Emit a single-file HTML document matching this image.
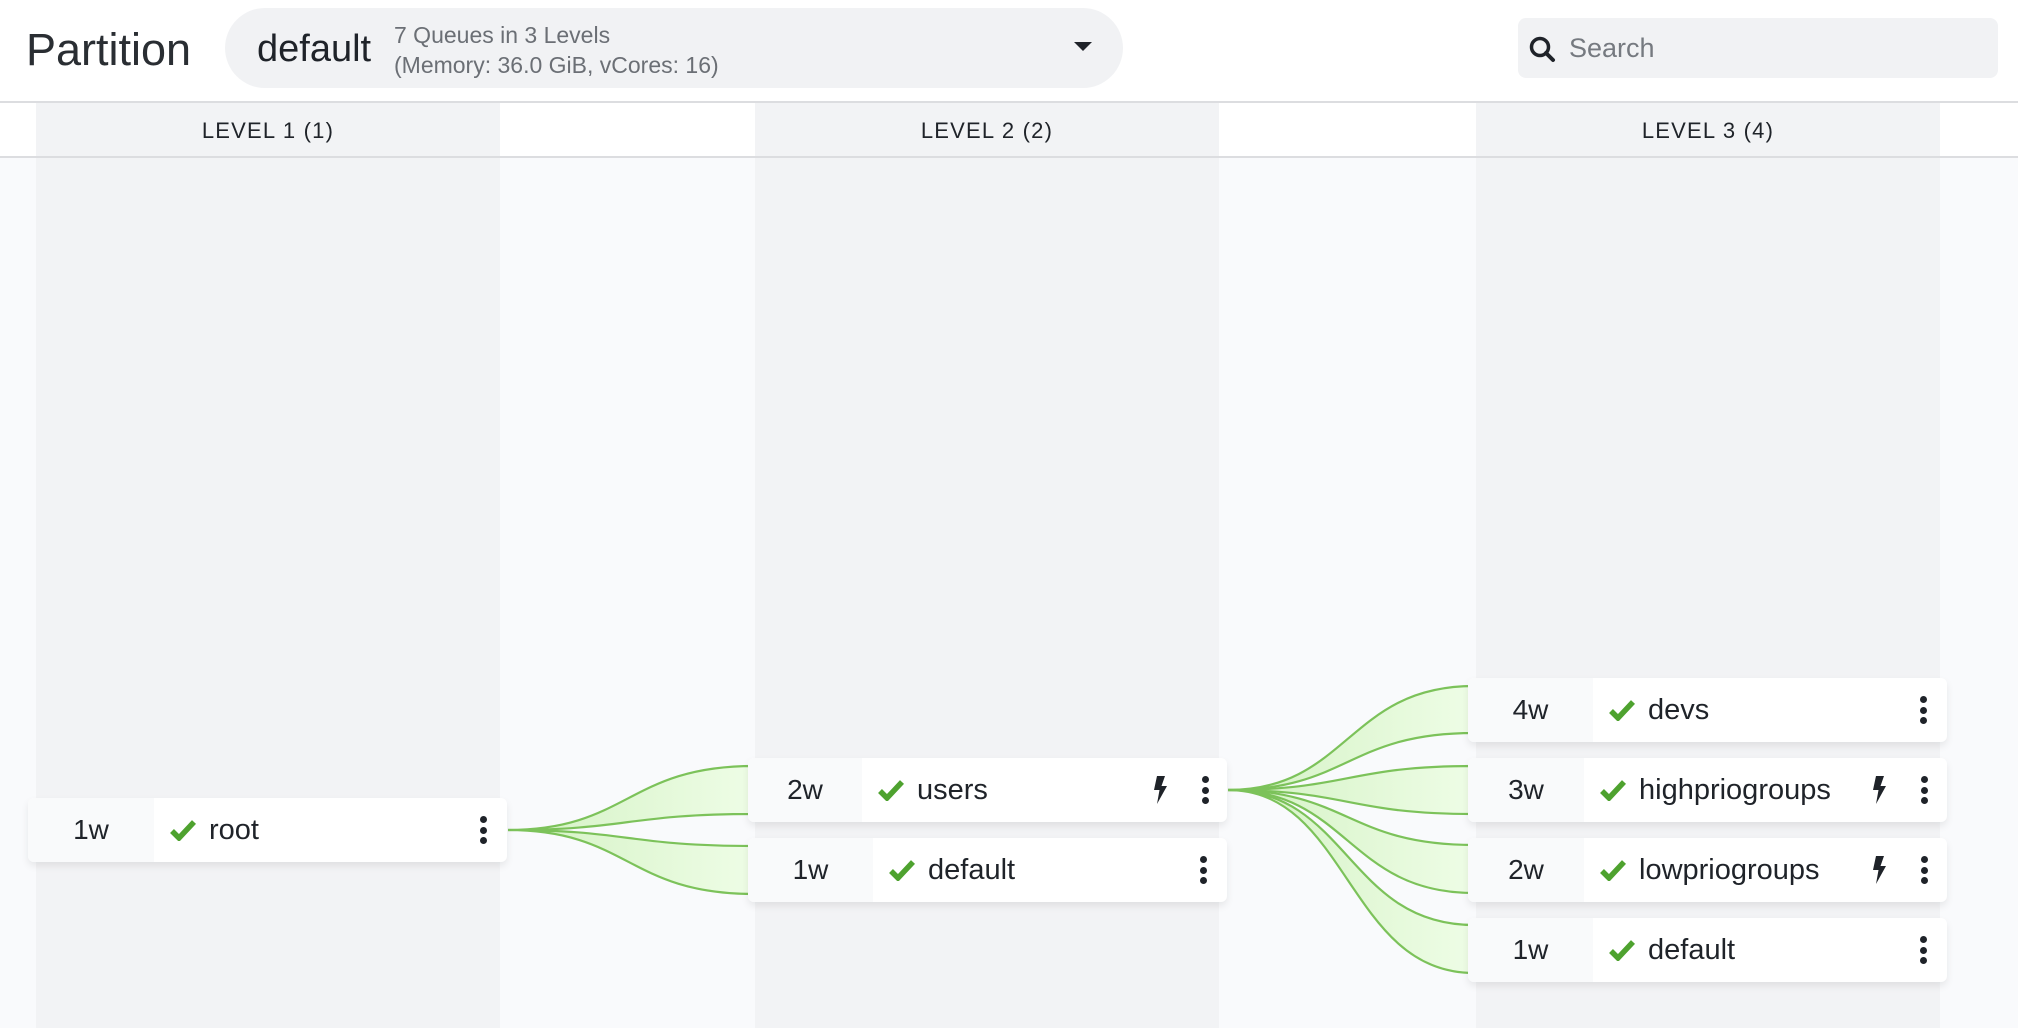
<!DOCTYPE html>
<html><head><meta charset="utf-8"><style>
*{box-sizing:border-box;margin:0;padding:0}
body{width:2018px;height:1028px;overflow:hidden;background:#f9fafc;font-family:"Liberation Sans",sans-serif;color:#1f2329;position:relative}
.abs{position:absolute}
.hdr{left:0;top:0;width:2018px;height:103px;background:#fff;border-bottom:2px solid #dcdde0}
.lvl{top:103px;height:55px;width:2018px;background:#fff;border-bottom:2px solid #dcdde0}
.col{background:#f2f3f5;width:464px}
.lbl{top:103px;height:55px;display:flex;align-items:center;justify-content:center;font-size:22px;letter-spacing:1.2px;color:#1f2329}
.node{height:64px;background:#fff;border-radius:6px;box-shadow:0 4px 8px rgba(0,0,0,0.08);display:flex;align-items:center;font-size:29px;overflow:hidden}
.w{height:100%;background:#f9fafb;display:flex;align-items:center;justify-content:center;font-size:28px}
.chk{width:26px;height:22px;margin-left:16px;margin-right:13px}
.keb{position:absolute;width:8px;height:28px;top:18px}
.keb i{display:block;width:7px;height:7px;border-radius:50%;background:#1f2329;margin-bottom:3.5px}
.bolt{position:absolute;top:18px;width:16px;height:28px}
</style></head><body>
<div class="abs hdr"></div>
<div class="abs" style="left:26px;top:22px;font-size:45px;color:#2a2e33;line-height:56px">Partition</div>
<div class="abs" style="left:225px;top:8px;width:898px;height:80px;border-radius:40px;background:#f1f2f4"></div>
<div class="abs" style="left:257px;top:26px;font-size:38px;line-height:46px">default</div>
<div class="abs" style="left:394px;top:20px;font-size:23px;line-height:30px;color:#6b6f75">7 Queues in 3 Levels<br>(Memory: 36.0 GiB, vCores: 16)</div>
<div class="abs" style="left:1074px;top:42px;width:0;height:0;border-left:9px solid transparent;border-right:9px solid transparent;border-top:9px solid #1f2329"></div>
<div class="abs" style="left:1518px;top:18px;width:480px;height:60px;border-radius:8px;background:#f1f2f4"></div>
<svg class="abs" style="left:1528px;top:35px" width="30" height="30" viewBox="0 0 30 30"><circle cx="12" cy="12" r="8.5" fill="none" stroke="#1f2329" stroke-width="3.5"/><line x1="18" y1="18" x2="25" y2="25" stroke="#1f2329" stroke-width="4" stroke-linecap="round"/></svg>
<div class="abs" style="left:1569px;top:30px;font-size:27px;line-height:36px;color:#767a80">Search</div>

<div class="abs lvl"></div>
<div class="abs col" style="left:36px;top:103px;height:925px"></div>
<div class="abs col" style="left:755px;top:103px;height:925px"></div>
<div class="abs col" style="left:1476px;top:103px;height:925px"></div>
<div class="abs" style="left:0;top:156px;width:2018px;height:2px;background:#dcdde0"></div>
<div class="abs" style="left:0;top:101px;width:2018px;height:2px;background:#dcdde0"></div>
<div class="abs lbl" style="left:36px;width:464px">LEVEL 1 (1)</div>
<div class="abs lbl" style="left:755px;width:464px">LEVEL 2 (2)</div>
<div class="abs lbl" style="left:1476px;width:464px">LEVEL 3 (4)</div>

<svg class="abs" style="left:0;top:0" width="2018" height="1028">
<defs><linearGradient id="g" x1="0" x2="1" y1="0" y2="0"><stop offset="0" stop-color="#d4f2c4"/><stop offset="1" stop-color="#eefde6"/></linearGradient></defs>
<g fill="url(#g)" stroke="#7cc25a" stroke-width="2.2">
<path d="M508 830 C628 830 628 766 754 766 L754 814 C628 814 628 830 508 830Z"/>
<path d="M508 830 C628 830 628 846 754 846 L754 894 C628 894 628 830 508 830Z"/>
<path d="M1228 790 C1348 790 1348 686 1474 686 L1474 733 C1348 733 1348 790 1228 790Z"/>
<path d="M1228 790 C1348 790 1348 766 1474 766 L1474 814 C1348 814 1348 790 1228 790Z"/>
<path d="M1228 790 C1348 790 1348 845 1474 845 L1474 893 C1348 893 1348 790 1228 790Z"/>
<path d="M1228 790 C1348 790 1348 925 1474 925 L1474 973 C1348 973 1348 790 1228 790Z"/>
</g></svg>

<svg width="0" height="0" style="position:absolute"><defs><symbol id="ck" viewBox="0 0 26 22"><path d="M2 12 L9 19 L24 3" fill="none" stroke="#4ea22f" stroke-width="5.5" stroke-linejoin="miter"/></symbol>
<symbol id="bt" viewBox="0 0 16 28"><path d="M5 0 L13 0 L9.5 10 L15 10 L5 28 L7.5 14 L2 14 Z" fill="#1f2329"/></symbol></defs></svg>

<div class="abs node" style="left:28px;top:798px;width:479px"><div class="w" style="width:126px">1w</div><svg class="chk"><use href="#ck"/></svg>root<div class="keb" style="left:452px"><i></i><i></i><i></i></div></div>

<div class="abs node" style="left:748px;top:758px;width:479px"><div class="w" style="width:114px">2w</div><svg class="chk"><use href="#ck"/></svg>users<svg class="bolt" style="left:404px"><use href="#bt"/></svg><div class="keb" style="left:454px"><i></i><i></i><i></i></div></div>
<div class="abs node" style="left:748px;top:838px;width:479px"><div class="w" style="width:125px">1w</div><svg class="chk"><use href="#ck"/></svg>default<div class="keb" style="left:452px"><i></i><i></i><i></i></div></div>

<div class="abs node" style="left:1468px;top:678px;width:479px"><div class="w" style="width:125px">4w</div><svg class="chk"><use href="#ck"/></svg>devs<div class="keb" style="left:452px"><i></i><i></i><i></i></div></div>
<div class="abs node" style="left:1468px;top:758px;width:479px"><div class="w" style="width:116px">3w</div><svg class="chk"><use href="#ck"/></svg>highpriogroups<svg class="bolt" style="left:403px"><use href="#bt"/></svg><div class="keb" style="left:453px"><i></i><i></i><i></i></div></div>
<div class="abs node" style="left:1468px;top:838px;width:479px"><div class="w" style="width:116px">2w</div><svg class="chk"><use href="#ck"/></svg>lowpriogroups<svg class="bolt" style="left:403px"><use href="#bt"/></svg><div class="keb" style="left:453px"><i></i><i></i><i></i></div></div>
<div class="abs node" style="left:1468px;top:918px;width:479px"><div class="w" style="width:125px">1w</div><svg class="chk"><use href="#ck"/></svg>default<div class="keb" style="left:452px"><i></i><i></i><i></i></div></div>
</body></html>
